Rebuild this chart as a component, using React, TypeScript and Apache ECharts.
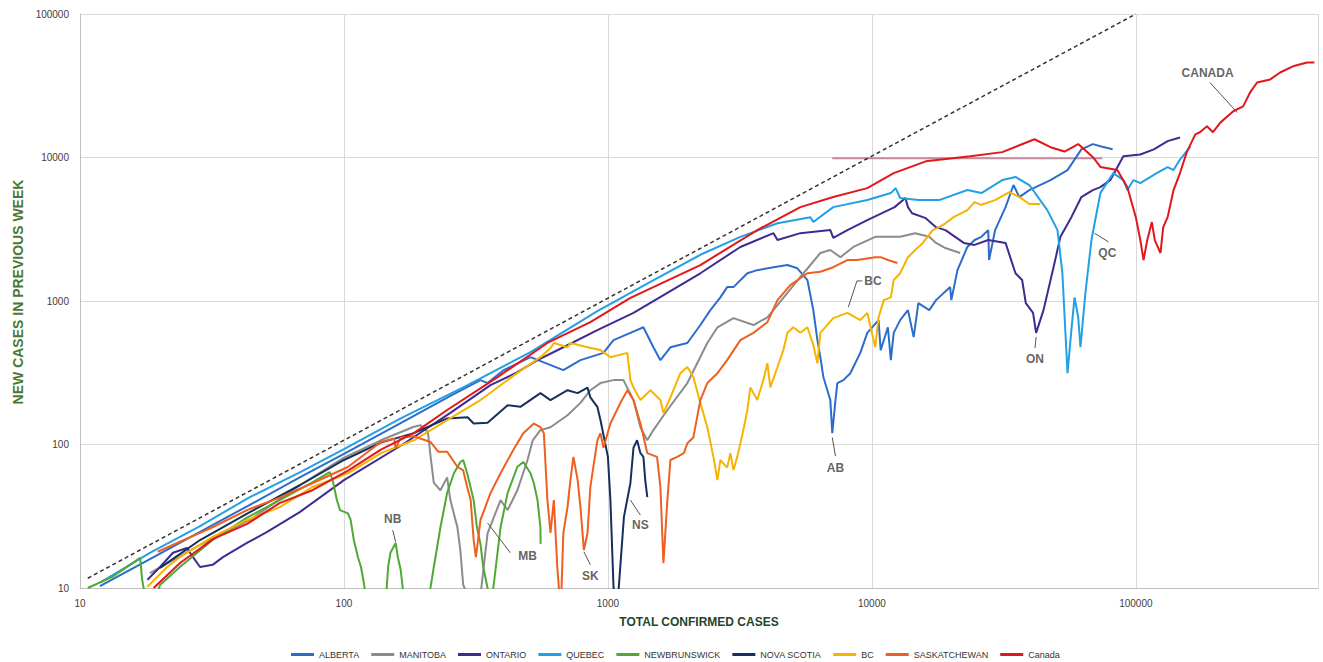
import React, { useEffect, useRef } from "react";
import * as echarts from "echarts";

// [total confirmed cases, new cases in previous week]
const albertaData = [
  [11.9, 10.3], [18.4, 15.9], [28.5, 24.6], [44, 38], [68, 59], [100, 86], [164, 141], [253, 218], [329, 281],
  [350, 268], [403, 330], [509, 406], [678, 330], [787, 387], [962, 435], [1050, 534], [1217, 600], [1363, 656],
  [1487, 476], [1581, 387], [1725, 476], [2000, 510], [2240, 680], [2444, 864], [2667, 1060], [2830, 1250],
  [2990, 1250], [3375, 1560], [3680, 1640], [4240, 1720], [4790, 1780], [5220, 1690], [5700, 1400], [6000, 864],
  [6220, 534], [6380, 406], [6550, 295], [6960, 204], [7080, 120], [7280, 204], [7400, 268], [7800, 281],
  [8290, 314], [8510, 347], [9040, 435], [9610, 600], [10600, 736], [10800, 455], [11500, 656], [11800, 387],
  [12100, 600], [12800, 736], [13700, 864], [14400, 560], [15000, 967], [16500, 864], [17500, 1014],
  [19800, 1250], [20000, 1014], [21100, 1640], [23000, 2380], [24500, 2660], [26000, 2800], [27600, 3120],
  [27800, 1930], [29300, 3120], [32100, 4510], [34400, 6430], [36200, 5300], [39500, 5930], [47500, 6960],
  [55100, 8170], [62200, 11400], [68700, 12400], [74700, 11900], [81700, 11400],
];
const manitobaData = [
  [18.4, 12.7], [28.5, 20], [44, 29.8], [68, 52], [100, 81], [138, 107], [184, 133], [195, 136], [208, 122],
  [213, 82], [219, 54], [232, 48], [246, 59], [253, 41], [269, 26.5], [276, 18.4], [283, 10.5], [302, 8],
  [329, 8.9], [350, 24], [392, 41], [417, 34.9], [454, 48], [496, 78], [519, 107], [555, 126], [606, 132],
  [703, 160], [787, 195], [858, 239], [937, 268], [1050, 281], [1145, 281], [1250, 204], [1328, 132],
  [1410, 107], [1487, 126], [1680, 174], [2000, 268], [2380, 510], [2600, 656], [2990, 760], [3560, 680],
  [4020, 770], [4390, 935], [5360, 1470], [6380, 2160], [6960, 2265], [7600, 2020], [8510, 2380],
  [10300, 2800], [12800, 2800], [14600, 2970], [16500, 2800], [17500, 2540], [19000, 2340], [21600, 2160],
];
const ontarioData = [
  [18, 11.4], [20.1, 14], [22.5, 17.6], [25.4, 19], [26.8, 16.4], [28.5, 14], [31.8, 14.5], [34.8, 16.4],
  [42.9, 20.6], [51, 24.5], [68, 33.8], [100, 56.5], [164, 98], [253, 166], [359, 259], [454, 319], [541, 387],
  [678, 476], [912, 627], [1250, 826], [2240, 1560], [3175, 2380], [4240, 2970], [4390, 2660], [5360, 2970],
  [6960, 3120], [7140, 2750], [8080, 3120], [9610, 3660], [12200, 4510], [13400, 5220], [13700, 4510],
  [14200, 4090], [16000, 3780], [17500, 3270], [19000, 3120], [22300, 2540], [24500, 2460], [27600, 2660],
  [32100, 2540], [35000, 1560], [37100, 1400], [38300, 967], [40800, 826], [41900, 600], [44700, 864],
  [49200, 1840], [51800, 2800], [57000, 3840], [62200, 5300], [68700, 5930], [73400, 6220], [80100, 6960],
  [89700, 10200], [104000, 10500], [117000, 11400], [132000, 13000], [147000, 13800],
];
const quebecData = [
  [12, 11], [18.4, 17.6], [28.5, 27], [44, 43], [68, 64], [100, 93], [164, 152], [283, 250], [509, 440],
  [912, 850], [1449, 1360], [2240, 2100], [3175, 2800], [4390, 3480], [5850, 3840], [6000, 3550], [7140, 4510],
  [9610, 5050], [11800, 5650], [12300, 6120], [12800, 5220], [15000, 5050], [18000, 5050], [23000, 5930],
  [26000, 5650], [31200, 6960], [35000, 7320], [39500, 6430], [46200, 4300], [50500, 3120], [52700, 1560],
  [55100, 314], [57000, 627], [58600, 1060], [60500, 770], [61700, 476], [64400, 1130], [67900, 2660],
  [73400, 5650], [82200, 7790], [89700, 6960], [92900, 5930], [98000, 6960], [104000, 6630], [120000, 7790],
  [132000, 8580], [139000, 8170], [147000, 9680], [161000, 11900],
];
const newBrunswickData = [
  [10.7, 10], [13.3, 12], [16.9, 16.2], [17.2, 11.4], [17.8, 8], [19.2, 8], [20.1, 10.5], [23.9, 14],
  [31.8, 21.6], [42.9, 30.9], [57.1, 41], [76.2, 54.7], [88.3, 64.3], [90.6, 56.5], [94, 41], [96.6, 34.9],
  [103.5, 33.1], [106, 29.8], [109, 21.6], [113, 16.4], [116, 14], [119, 10.8], [122, 8], [144, 8], [147, 14],
  [150, 17.6], [157, 20.6], [160, 16.4], [164, 13.4], [167, 10], [170, 8], [208, 8], [213, 10.2], [219, 14],
  [232, 26.5], [246, 46], [261, 63], [276, 75.5], [283, 78], [293, 63], [310, 41], [319, 26.5], [329, 20.3],
  [337, 14], [350, 10], [359, 8], [368, 10], [392, 26.5], [417, 46], [454, 70], [478, 75.5], [509, 63],
  [524, 53.9], [541, 41], [555, 26.5], [556, 20.3],
];
const novaScotiaData = [
  [20.1, 13.8], [28.5, 21.6], [44, 33.8], [68, 52], [100, 78], [138, 103], [184, 120], [246, 152], [294, 155],
  [310, 140], [350, 142], [417, 188], [466, 183], [555, 228], [606, 204], [703, 239], [768, 228], [837, 249],
  [858, 213], [912, 183], [937, 148], [1000, 82], [1022, 41], [1050, 10.2], [1070, 8], [1090, 8], [1100, 10.2],
  [1150, 31.3], [1217, 53.9], [1250, 95], [1290, 107], [1328, 87], [1363, 82], [1385, 56.5], [1410, 43],
];
const bcData = [
  [18, 10.2], [21.4, 14], [23.9, 16.4], [31.8, 22.7], [42.9, 29.8], [57.1, 36.6], [76.2, 50.6], [103.5, 63],
  [138, 87], [184, 107], [246, 148], [329, 204], [427, 291], [555, 406], [606, 470], [624, 510], [703, 476],
  [721, 510], [837, 476], [937, 455], [1022, 406], [1185, 435], [1217, 281], [1250, 250], [1328, 204],
  [1449, 239], [1581, 204], [1623, 166], [1725, 213], [1882, 314], [2000, 347], [2107, 295], [2240, 195],
  [2380, 132], [2510, 82], [2600, 56.5], [2667, 78], [2830, 69], [2910, 87], [2990, 66.4], [3090, 82],
  [3260, 126], [3375, 174], [3465, 250], [3680, 204], [3880, 281], [4020, 368], [4125, 250], [4390, 347],
  [4620, 455], [4790, 600], [5040, 656], [5360, 600], [5700, 656], [6000, 494], [6220, 368], [6380, 600],
  [7140, 760], [8080, 826], [9040, 736], [9610, 826], [10300, 476], [10600, 770], [11100, 1014], [11800, 1060],
  [12100, 1400], [12800, 1560], [13700, 2020], [14600, 2265], [15600, 2540], [17000, 3120], [18000, 3270],
  [19000, 3480], [20400, 3840], [23000, 4300], [24500, 4890], [26000, 4680], [29300, 5050], [33200, 5740],
  [36200, 5300], [39500, 4740], [43500, 4740],
];
const saskatchewanData = [
  [19.7, 17.9], [23.9, 21], [28.5, 24.2], [31.8, 26.5], [42.9, 34.9], [57.1, 42.6], [76.2, 53.9], [103.5, 69.7],
  [138, 104], [155, 110], [157, 94], [164, 112], [184, 114], [213, 104], [228, 89], [246, 89], [269, 70],
  [283, 66], [293, 50.6], [302, 41], [310, 21.6], [316, 16.4], [322, 21.6], [329, 29.8], [359, 45.8], [392, 63],
  [438, 91.5], [478, 120], [524, 140], [555, 132], [572, 120], [590, 41], [606, 24.2], [624, 41], [643, 14],
  [655, 9], [666, 9], [678, 24.2], [703, 36.6], [721, 56.5], [740, 82], [768, 56.5], [787, 36.6], [811, 18.4],
  [837, 24.2], [858, 50.6], [912, 107], [937, 120], [962, 95], [1022, 140], [1115, 195], [1185, 239],
  [1250, 204], [1328, 140], [1410, 87], [1535, 82], [1581, 50.6], [1623, 14.9], [1680, 41], [1725, 78],
  [1830, 82], [1940, 87], [2000, 102], [2107, 112], [2240, 204], [2380, 268], [2600, 314], [2830, 387],
  [3175, 534], [3560, 600], [4020, 712], [4390, 1014], [4910, 1290], [5700, 1560], [6380, 1600], [7140, 1720],
  [8080, 1930], [8780, 1930], [10300, 2020], [10800, 2020], [11500, 1930], [12500, 1840],
];
const canadaData = [
  [19, 10], [24, 15], [32, 22], [43, 28], [57, 39], [76, 48], [104, 66], [138, 92], [184, 120], [246, 174],
  [382, 295], [590, 510], [858, 712], [1217, 1050], [2240, 1780], [3680, 3120], [5360, 4510], [7140, 5300],
  [9610, 6120], [12100, 7790], [16000, 9400], [23600, 10200], [31200, 10900], [41300, 13400], [47500, 11800],
  [53700, 11000], [60500, 12400], [69000, 10000], [73400, 8600], [85100, 8170], [92900, 6200], [100000, 3840],
  [104000, 2660], [107000, 1930], [110500, 2660], [115000, 3550], [118000, 2660], [124000, 2160],
  [127000, 3270], [132000, 3840], [139000, 5930], [147000, 7790], [156000, 10900], [168000, 14500],
  [175000, 15000], [186000, 16500], [196000, 15000], [209000, 17500], [234000, 21000], [255000, 22700],
  [271000, 28400], [288000, 33300], [323000, 35000], [352000, 39100], [394000, 43200], [445000, 45900],
  [475000, 45900],
];
// reference line where weekly new cases equal total cases
const referenceLine = [[10.7, 11.7], [100000, 100000]];
const highlightLine = [[7080, 9900], [74700, 9900]];

const seriesNames = ["ALBERTA", "MANITOBA", "ONTARIO", "QUEBEC", "NEWBRUNSWICK", "NOVA SCOTIA", "BC", "SASKATCHEWAN", "Canada"];
const seriesColors = ["#2d6ccb", "#8c8c8c", "#3f2b8f", "#22a0e6", "#4ea935", "#16305e", "#f6b400", "#ef5f20", "#e2171b"];
const seriesData = [albertaData, manitobaData, ontarioData, quebecData, newBrunswickData, novaScotiaData, bcData, saskatchewanData, canadaData];

const annotationNames = ["CANADA", "QC", "ON", "AB", "BC", "NB", "MB", "SK", "NS"];
const annotationPositions = [
  [187000, 39100], [78000, 2160], [41500, 393], [7280, 68.6], [10090, 1380], [153, 30.3], [496, 16.7], [858, 12.1], [1328, 27.5],
];
const leaderLines = [
  [[191000, 33300], [242000, 20600]],
  [[69700, 2970], [78800, 2580]],
  [[41900, 560], [41500, 470]],
  [[7080, 112], [7280, 83]],
  [[9210, 1380], [8780, 1380], [8140, 905]],
  [[153, 25.3], [157, 20.9]],
  [[350, 28.4], [427, 17.6]],
  [[811, 17.9], [858, 14.5]],
  [[1217, 41], [1328, 32.2]],
];

const FONT = "Liberation Sans, Arial, sans-serif";

export default function App() {
  const ref = useRef<HTMLDivElement>(null);
  useEffect(() => {
    if (!ref.current) return;
    const chart = echarts.init(ref.current, null, { renderer: "svg" });
    const mainSeries = seriesNames.map((name, i) => ({
      name,
      type: "line",
      data: seriesData[i],
      showSymbol: false,
      symbol: "none",
      clip: true,
      lineStyle: { color: seriesColors[i], width: 2 },
      itemStyle: { color: seriesColors[i] },
      z: 3 + i,
    }));
    const leaderSeries = leaderLines.map((pts, i) => ({
      name: "leader" + i,
      type: "line",
      data: pts,
      symbol: "none",
      silent: true,
      lineStyle: { color: "#555", width: 1 },
      z: 20,
    }));
    const plain = (v: number) => String(Math.round(v));
    chart.setOption({
      animation: false,
      backgroundColor: "#ffffff",
      textStyle: { fontFamily: FONT },
      grid: { left: 80, right: 5, top: 14, bottom: 74, containLabel: false },
      legend: {
        data: seriesNames,
        left: 291,
        top: 650,
        padding: 0,
        icon: "rect",
        itemWidth: 23,
        itemHeight: 3,
        itemGap: 12,
        textStyle: { fontSize: 9, color: "#333", fontFamily: FONT },
      },
      xAxis: {
        type: "log",
        logBase: 10,
        min: 10,
        max: 490000,
        name: "TOTAL CONFIRMED CASES",
        nameLocation: "middle",
        nameGap: 28,
        nameTextStyle: { fontSize: 12, fontWeight: "bold", color: "#24452b", fontFamily: FONT },
        axisLine: { show: true, lineStyle: { color: "#bfbfbf" } },
        axisTick: { show: false },
        axisLabel: { fontSize: 10, color: "#404040", margin: 10, showMaxLabel: false, formatter: plain },
        splitLine: { show: true, lineStyle: { color: "#d9d9d9", width: 1 } },
      },
      yAxis: {
        type: "log",
        logBase: 10,
        min: 10,
        max: 100000,
        name: "NEW CASES IN PREVIOUS WEEK",
        nameLocation: "middle",
        nameGap: 51,
        nameTextStyle: { fontSize: 14, fontWeight: "bold", color: "#4a7a32", fontFamily: FONT, padding: [0, 0, 0, 18] },
        axisLine: { show: true, lineStyle: { color: "#bfbfbf" } },
        axisTick: { show: false },
        axisLabel: { fontSize: 10, color: "#404040", margin: 11, formatter: plain },
        splitLine: { show: true, lineStyle: { color: "#d9d9d9", width: 1 } },
      },
      series: [
        {
          name: "highlight",
          type: "line",
          data: highlightLine,
          symbol: "none",
          silent: true,
          lineStyle: { color: "#c48a9c", width: 2 },
          z: 2,
        },
        ...mainSeries,
        {
          name: "reference",
          type: "line",
          data: referenceLine,
          symbol: "none",
          silent: true,
          lineStyle: { color: "#333", width: 1.5, type: [4, 3] },
          z: 15,
        },
        ...leaderSeries,
        {
          name: "labels",
          type: "scatter",
          symbolSize: 1,
          itemStyle: { color: "rgba(0,0,0,0)" },
          silent: true,
          data: annotationNames.map((n, i) => ({ name: n, value: annotationPositions[i] })),
          label: {
            show: true,
            position: "inside",
            formatter: "{b}",
            color: "#3a3a3a",
            fontSize: 12,
            fontWeight: "bold",
            fontFamily: FONT,
          },
          z: 21,
        },
      ],
    });
    return () => chart.dispose();
  }, []);
  return (
    <div
      ref={ref}
      style={{ position: "fixed", left: 0, top: 0, width: 1323, height: 662, background: "#fff" }}
    />
  );
}
